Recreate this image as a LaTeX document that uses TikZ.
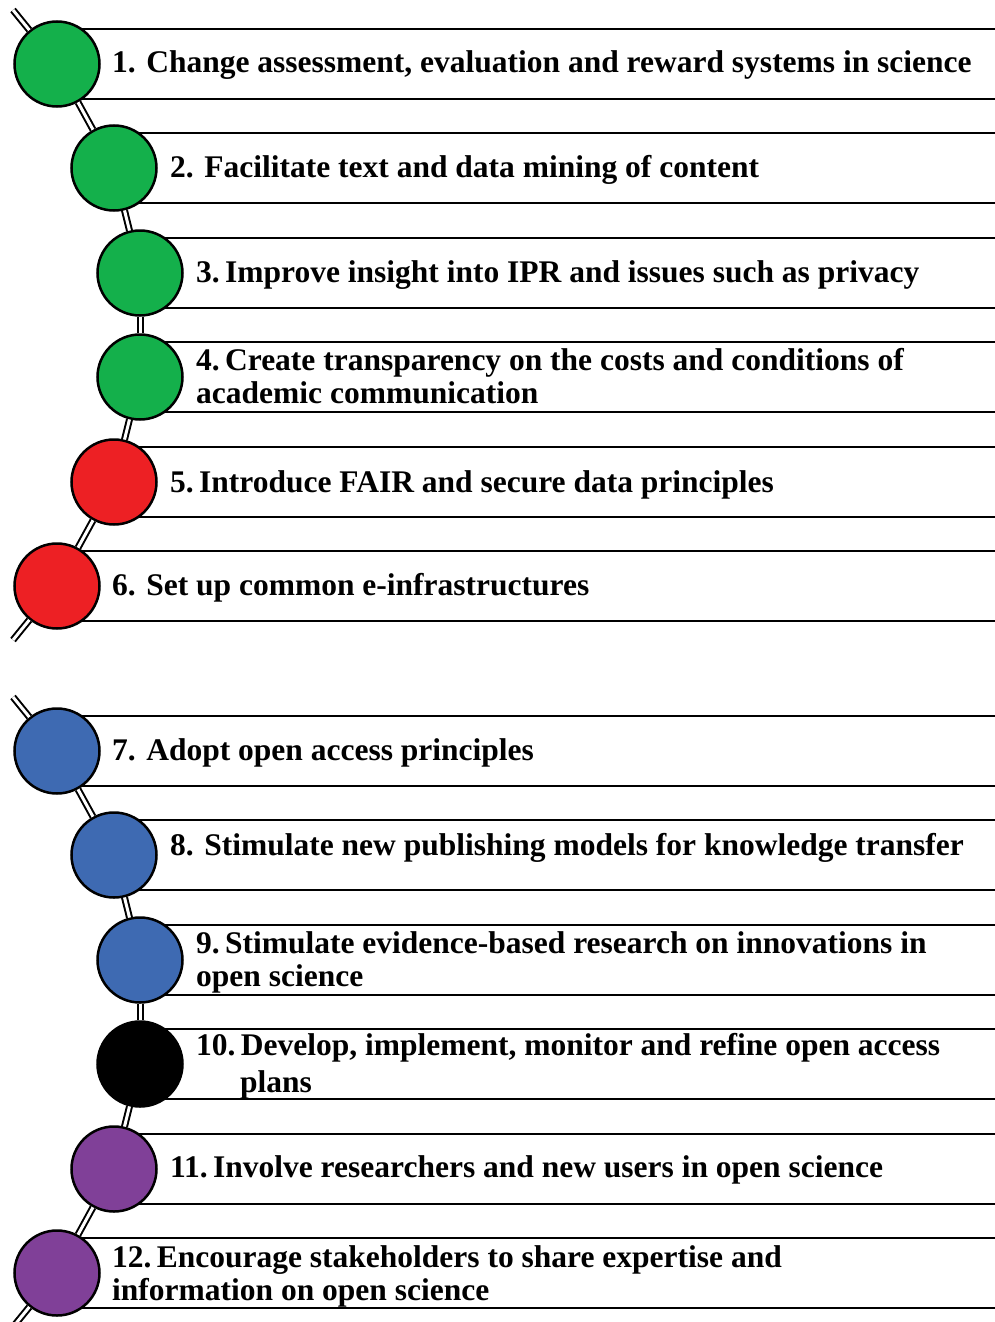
\documentclass[tikz,border=0pt]{standalone}
\usepackage{fontspec}
\setmainfont{Liberation Serif}
\definecolor{ogreen}{RGB}{20,176,75}
\definecolor{ored}{RGB}{237,32,36}
\definecolor{oblue}{RGB}{62,106,178}
\definecolor{opurple}{RGB}{128,64,152}
\begin{document}
\begin{tikzpicture}[x=1pt,y=-1pt,
	dot/.style={circle,draw=black,line width=2.5pt,minimum size=85pt,inner sep=0pt},
	band/.style={line width=2.5pt},
	rope/.style={draw=black,double=white,line width=2pt,double distance=3pt},
	item/.style={anchor=base west,align=left,inner sep=0pt,font=\fontsize{31.5}{33}\selectfont\bfseries}]
			\useasboundingbox (0,0) rectangle (995,1322);
			
			\draw[band] (57,29) -- (995,29) (57,99) -- (995,99);
			\draw[band] (114,133) -- (995,133) (114,203) -- (995,203);
			\draw[band] (140,238) -- (995,238) (140,308) -- (995,308);
			\draw[band] (140,342) -- (995,342) (140,412) -- (995,412);
			\draw[band] (114,447) -- (995,447) (114,517) -- (995,517);
			\draw[band] (57,551) -- (995,551) (57,621) -- (995,621);
			
			\draw[band] (57,716) -- (995,716) (57,786) -- (995,786);
			\draw[band] (114,820) -- (995,820) (114,890) -- (995,890);
			\draw[band] (140,925) -- (995,925) (140,995) -- (995,995);
			\draw[band] (140,1029) -- (995,1029) (140,1099) -- (995,1099);
			\draw[band] (114,1134) -- (995,1134) (114,1204) -- (995,1204);
			\draw[band] (57,1238) -- (995,1238) (57,1308) -- (995,1308);
			
			\coordinate (S) at (13,10);
			\node[dot, fill=ogreen] (A) at (57,64) {};
			\node[dot, fill=ogreen] (B) at (114,168) {};
			\node[dot, fill=ogreen] (C) at (140,273) {};
			\node[dot, fill=ogreen] (D) at (140,377) {};
			\node[dot, fill=ored] (E) at (114,482) {};
			\node[dot, fill=ored] (F) at (57,586) {};
			\coordinate (T) at (13,640);
			
			\draw[rope] (S) -- (A);
			\draw[rope] (A) -- (B);
			\draw[rope] (B) -- (C);
			\draw[rope] (C) -- (D);
			\draw[rope] (D) -- (E);
			\draw[rope] (E) -- (F);
			\draw[rope] (F) -- (T);
			
			\coordinate (S') at (13,697);
			\node[dot, fill=oblue] (A') at (57,751) {};
			\node[dot, fill=oblue] (B') at (114,855) {};
			\node[dot, fill=oblue] (C') at (140,960) {};
			\node[dot, fill=black] (D') at (140,1064) {};
			\node[dot, fill=opurple] (E') at (114,1169) {};
			\node[dot, fill=opurple] (F') at (57,1273) {};
			\coordinate (T') at (13,1327);
			
			\draw[rope] (S') -- (A');
			\draw[rope] (A') -- (B');
			\draw[rope] (B') -- (C');
			\draw[rope] (C') -- (D');
			\draw[rope] (D') -- (E');
			\draw[rope] (E') -- (F');
			\draw[rope] (F') -- (T');
			
			\node[item] (a) at (112,73) {1. Change assessment, evaluation and reward systems in science};
			\node[item] (b) at (170,177) {2. Facilitate text and data mining of content};
			\node[item] (c) at (196,282) {3.\,Improve insight into IPR and issues such as privacy};
			\node[item] (d) at (196,403) {4.\,Create transparency on the costs and conditions of\\academic communication};
			\node[item] (e) at (170,492) {5.\,Introduce FAIR and secure data principles};
			\node[item] (f) at (112,595) {6. Set up common e-infrastructures};
			
			\node[item] (a') at (112,760) {7. Adopt open access principles};
			\node[item] (b') at (170,855) {8. Stimulate new publishing models for knowledge transfer};
			\node[item] (c') at (196,986) {9.\,Stimulate evidence-based research on innovations in\\open science};
			\node[item] (d') at (196,1092) {10.\,Develop, implement, monitor and refine open access\\[4pt]\hspace*{44pt}plans};
			\node[item] (e') at (170,1177) {11.\,Involve researchers and new users in open science};
			\node[item] (f') at (112,1300) {12.\,Encourage stakeholders to share expertise and\\information on open science};
			
		\end{tikzpicture}
\end{document}
